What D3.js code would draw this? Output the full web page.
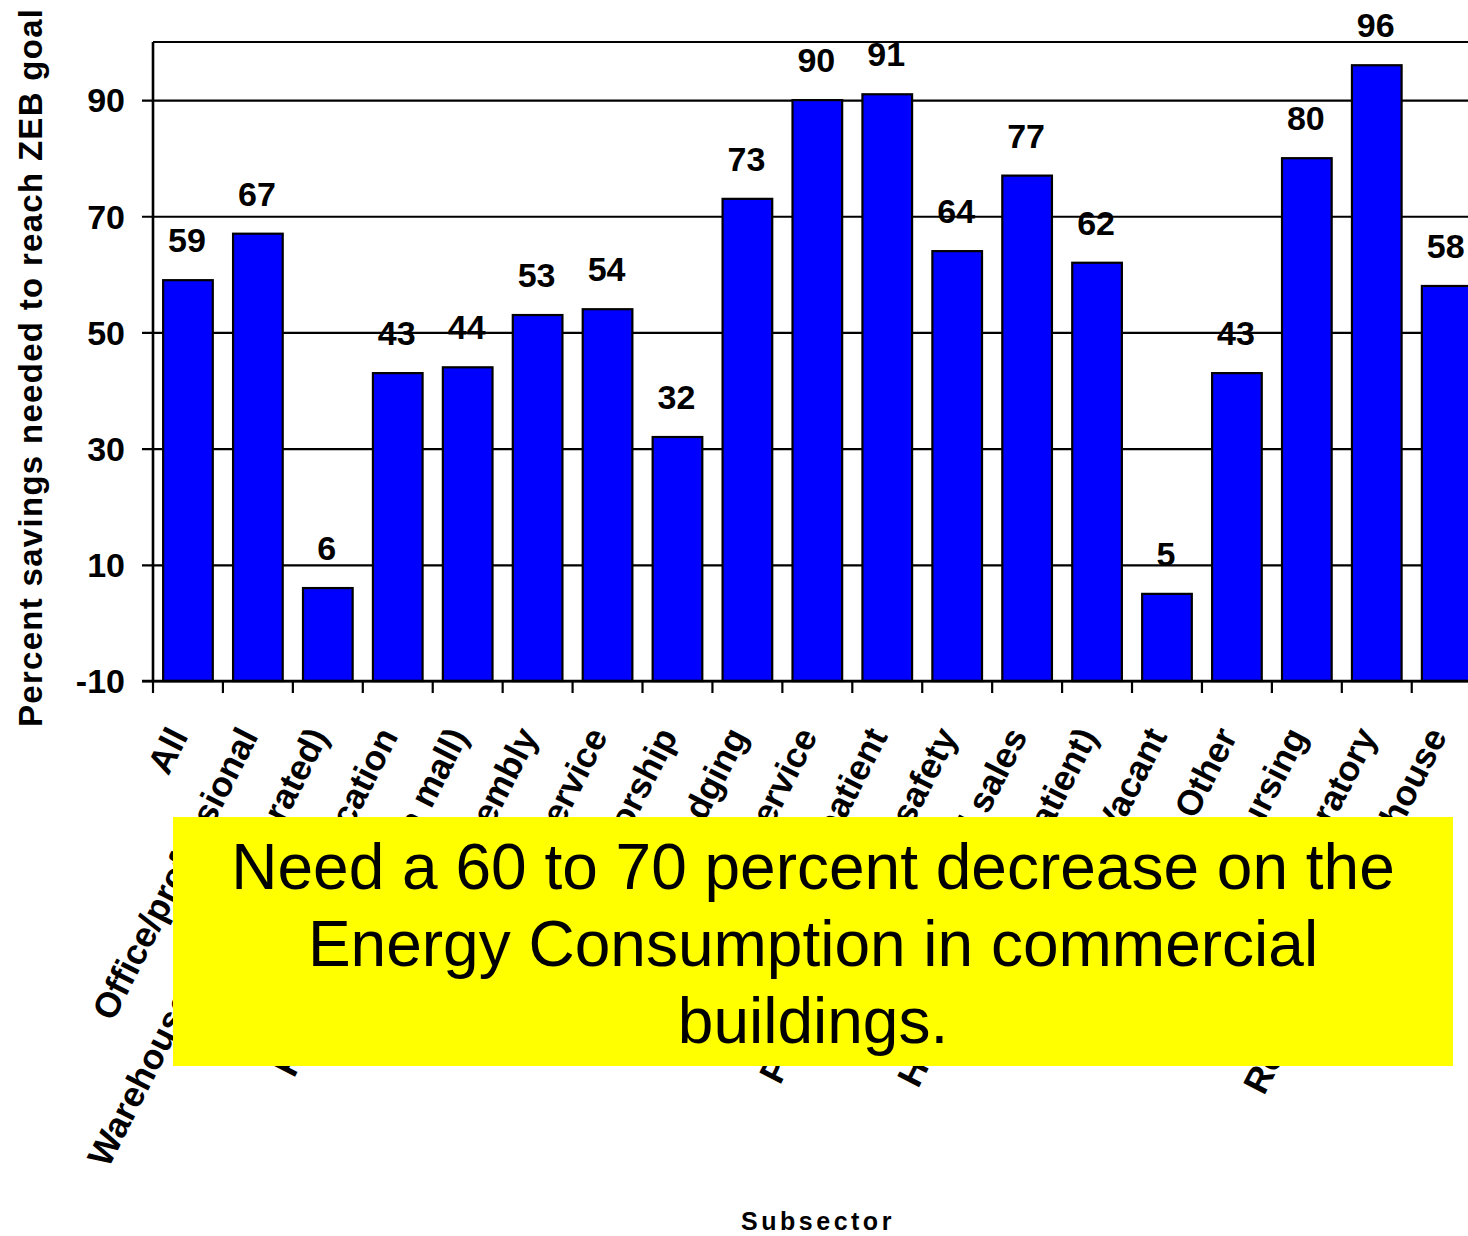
<!DOCTYPE html>
<html>
<head>
<meta charset="utf-8">
<script src="https://cdn.jsdelivr.net/npm/d3@7"></script>
<style>
  html, body { margin: 0; padding: 0; background: #fff; }
  svg { display: block; font-family: "Liberation Sans", Arial, Helvetica, sans-serif; }
</style>
</head>
<body>
<svg id="chart" width="1468" height="1236"></svg>
<script>
// Subsectors (x categories)
const subsectors = [
  "All", "Office/professional", "Warehouse (nonrefrigerated)", "Education",
  "Retail (other than mall)", "Public assembly", "Food service", "Religious worship",
  "Lodging", "Service", "Health care inpatient", "Public order and safety",
  "Food sales", "Health care (outpatient)", "Vacant", "Other", "Nursing",
  "Laboratory", "Refrigerated warehouse"
];

// Percent savings needed to reach the ZEB goal
const savings = [59, 67, 6, 43, 44, 53, 54, 32, 73, 90, 91, 64, 77, 62, 5, 43, 80, 96, 58];

// Y axis tick values
const yTicks = [-10, 10, 30, 50, 70, 90];

const yTitle = "Percent savings needed to reach ZEB goal";
const xTitle = "Subsector";
const noteLines = [
  "Need a 60 to 70 percent decrease on the",
  "Energy Consumption in commercial",
  "buildings."
];

const svg = d3.select("#chart");

const plotLeft = 153, plotTop = 42, plotBottom = 681;
const step = 69.93;
const plotRight = plotLeft + step * subsectors.length;

const x = d3.scaleBand()
  .domain(subsectors)
  .range([plotLeft, plotRight])
  .paddingInner(0.29)
  .paddingOuter(0.145);

const y = d3.scaleLinear().domain([-10, 100]).range([plotBottom, plotTop]);

// Band boundaries for the category tick marks
const boundary = d3.scaleLinear().domain([0, subsectors.length]).range([plotLeft, plotRight]);

// Horizontal gridlines with left tick marks
const yAxis = d3.axisLeft(y)
  .tickValues(yTicks)
  .tickSize(plotRight - plotLeft + 11)
  .tickFormat(d3.format("d"));

const gy = svg.append("g")
  .attr("transform", `translate(${plotRight},0)`)
  .call(yAxis);
gy.select(".domain").remove();
gy.selectAll(".tick line")
  .attr("stroke", "#000")
  .attr("stroke-width", 2.2);
gy.selectAll(".tick text").remove();

// Y tick labels
svg.append("g").selectAll("text")
  .data(yTicks)
  .join("text")
  .attr("x", 125)
  .attr("y", d => y(d))
  .attr("dy", "0.36em")
  .attr("text-anchor", "end")
  .attr("font-size", 34)
  .attr("font-weight", "bold")
  .attr("fill", "#000")
  .text(d => d);

// Top frame line
svg.append("line")
  .attr("x1", plotLeft).attr("x2", plotRight)
  .attr("y1", y(100)).attr("y2", y(100))
  .attr("stroke", "#000").attr("stroke-width", 2.2);

// Bars
svg.append("g").selectAll("rect")
  .data(savings)
  .join("rect")
  .attr("x", (d, i) => x(subsectors[i]))
  .attr("width", x.bandwidth())
  .attr("y", d => y(d))
  .attr("height", d => y(-10) - y(d))
  .attr("fill", "#0000FF")
  .attr("stroke", "#000")
  .attr("stroke-width", 2.2);

// Value labels
svg.append("g").selectAll("text")
  .data(savings)
  .join("text")
  .attr("x", (d, i) => x(subsectors[i]) + x.bandwidth() / 2 - 1)
  .attr("y", d => y(d) - 28)
  .attr("text-anchor", "middle")
  .attr("font-size", 34)
  .attr("font-weight", "bold")
  .attr("fill", "#000")
  .text(d => d);

// Left axis line
svg.append("line")
  .attr("x1", plotLeft).attr("x2", plotLeft)
  .attr("y1", y(100)).attr("y2", plotBottom)
  .attr("stroke", "#000").attr("stroke-width", 2.6);

// Bottom axis line and category boundary ticks
svg.append("line")
  .attr("x1", plotLeft - 11).attr("x2", plotRight)
  .attr("y1", plotBottom).attr("y2", plotBottom)
  .attr("stroke", "#000").attr("stroke-width", 2.6);

svg.append("g").selectAll("line")
  .data(d3.range(subsectors.length + 1))
  .join("line")
  .attr("x1", d => boundary(d)).attr("x2", d => boundary(d))
  .attr("y1", plotBottom).attr("y2", plotBottom + 12)
  .attr("stroke", "#000").attr("stroke-width", 2.2);

// Rotated category labels
svg.append("g").selectAll("text")
  .data(subsectors)
  .join("text")
  .attr("transform", d => `translate(${x(d) + x.bandwidth() / 2 + 1},736) rotate(-63)`)
  .attr("text-anchor", "end")
  .attr("font-size", 35.5)
  .attr("font-weight", "bold")
  .attr("fill", "#000")
  .text(d => d);

// Axis titles
svg.append("text")
  .attr("transform", "translate(42,368) rotate(-90)")
  .attr("text-anchor", "middle")
  .attr("font-size", 33)
  .attr("font-weight", "bold")
  .attr("textLength", 718)
  .attr("lengthAdjust", "spacing")
  .attr("fill", "#000")
  .text(yTitle);

svg.append("text")
  .attr("x", 818)
  .attr("y", 1230)
  .attr("text-anchor", "middle")
  .attr("font-size", 25)
  .attr("font-weight", "bold")
  .attr("letter-spacing", 3.5)
  .attr("fill", "#000")
  .text(xTitle);

// Highlighted note over the category labels
const note = svg.append("g");
note.append("rect")
  .attr("x", 173).attr("y", 817)
  .attr("width", 1280).attr("height", 249)
  .attr("fill", "#FFFF00");
note.selectAll("text")
  .data(noteLines)
  .join("text")
  .attr("x", 813)
  .attr("y", (d, i) => 889 + i * 77)
  .attr("text-anchor", "middle")
  .attr("font-size", 64)
  .attr("fill", "#000")
  .text(d => d);
</script>
</body>
</html>
